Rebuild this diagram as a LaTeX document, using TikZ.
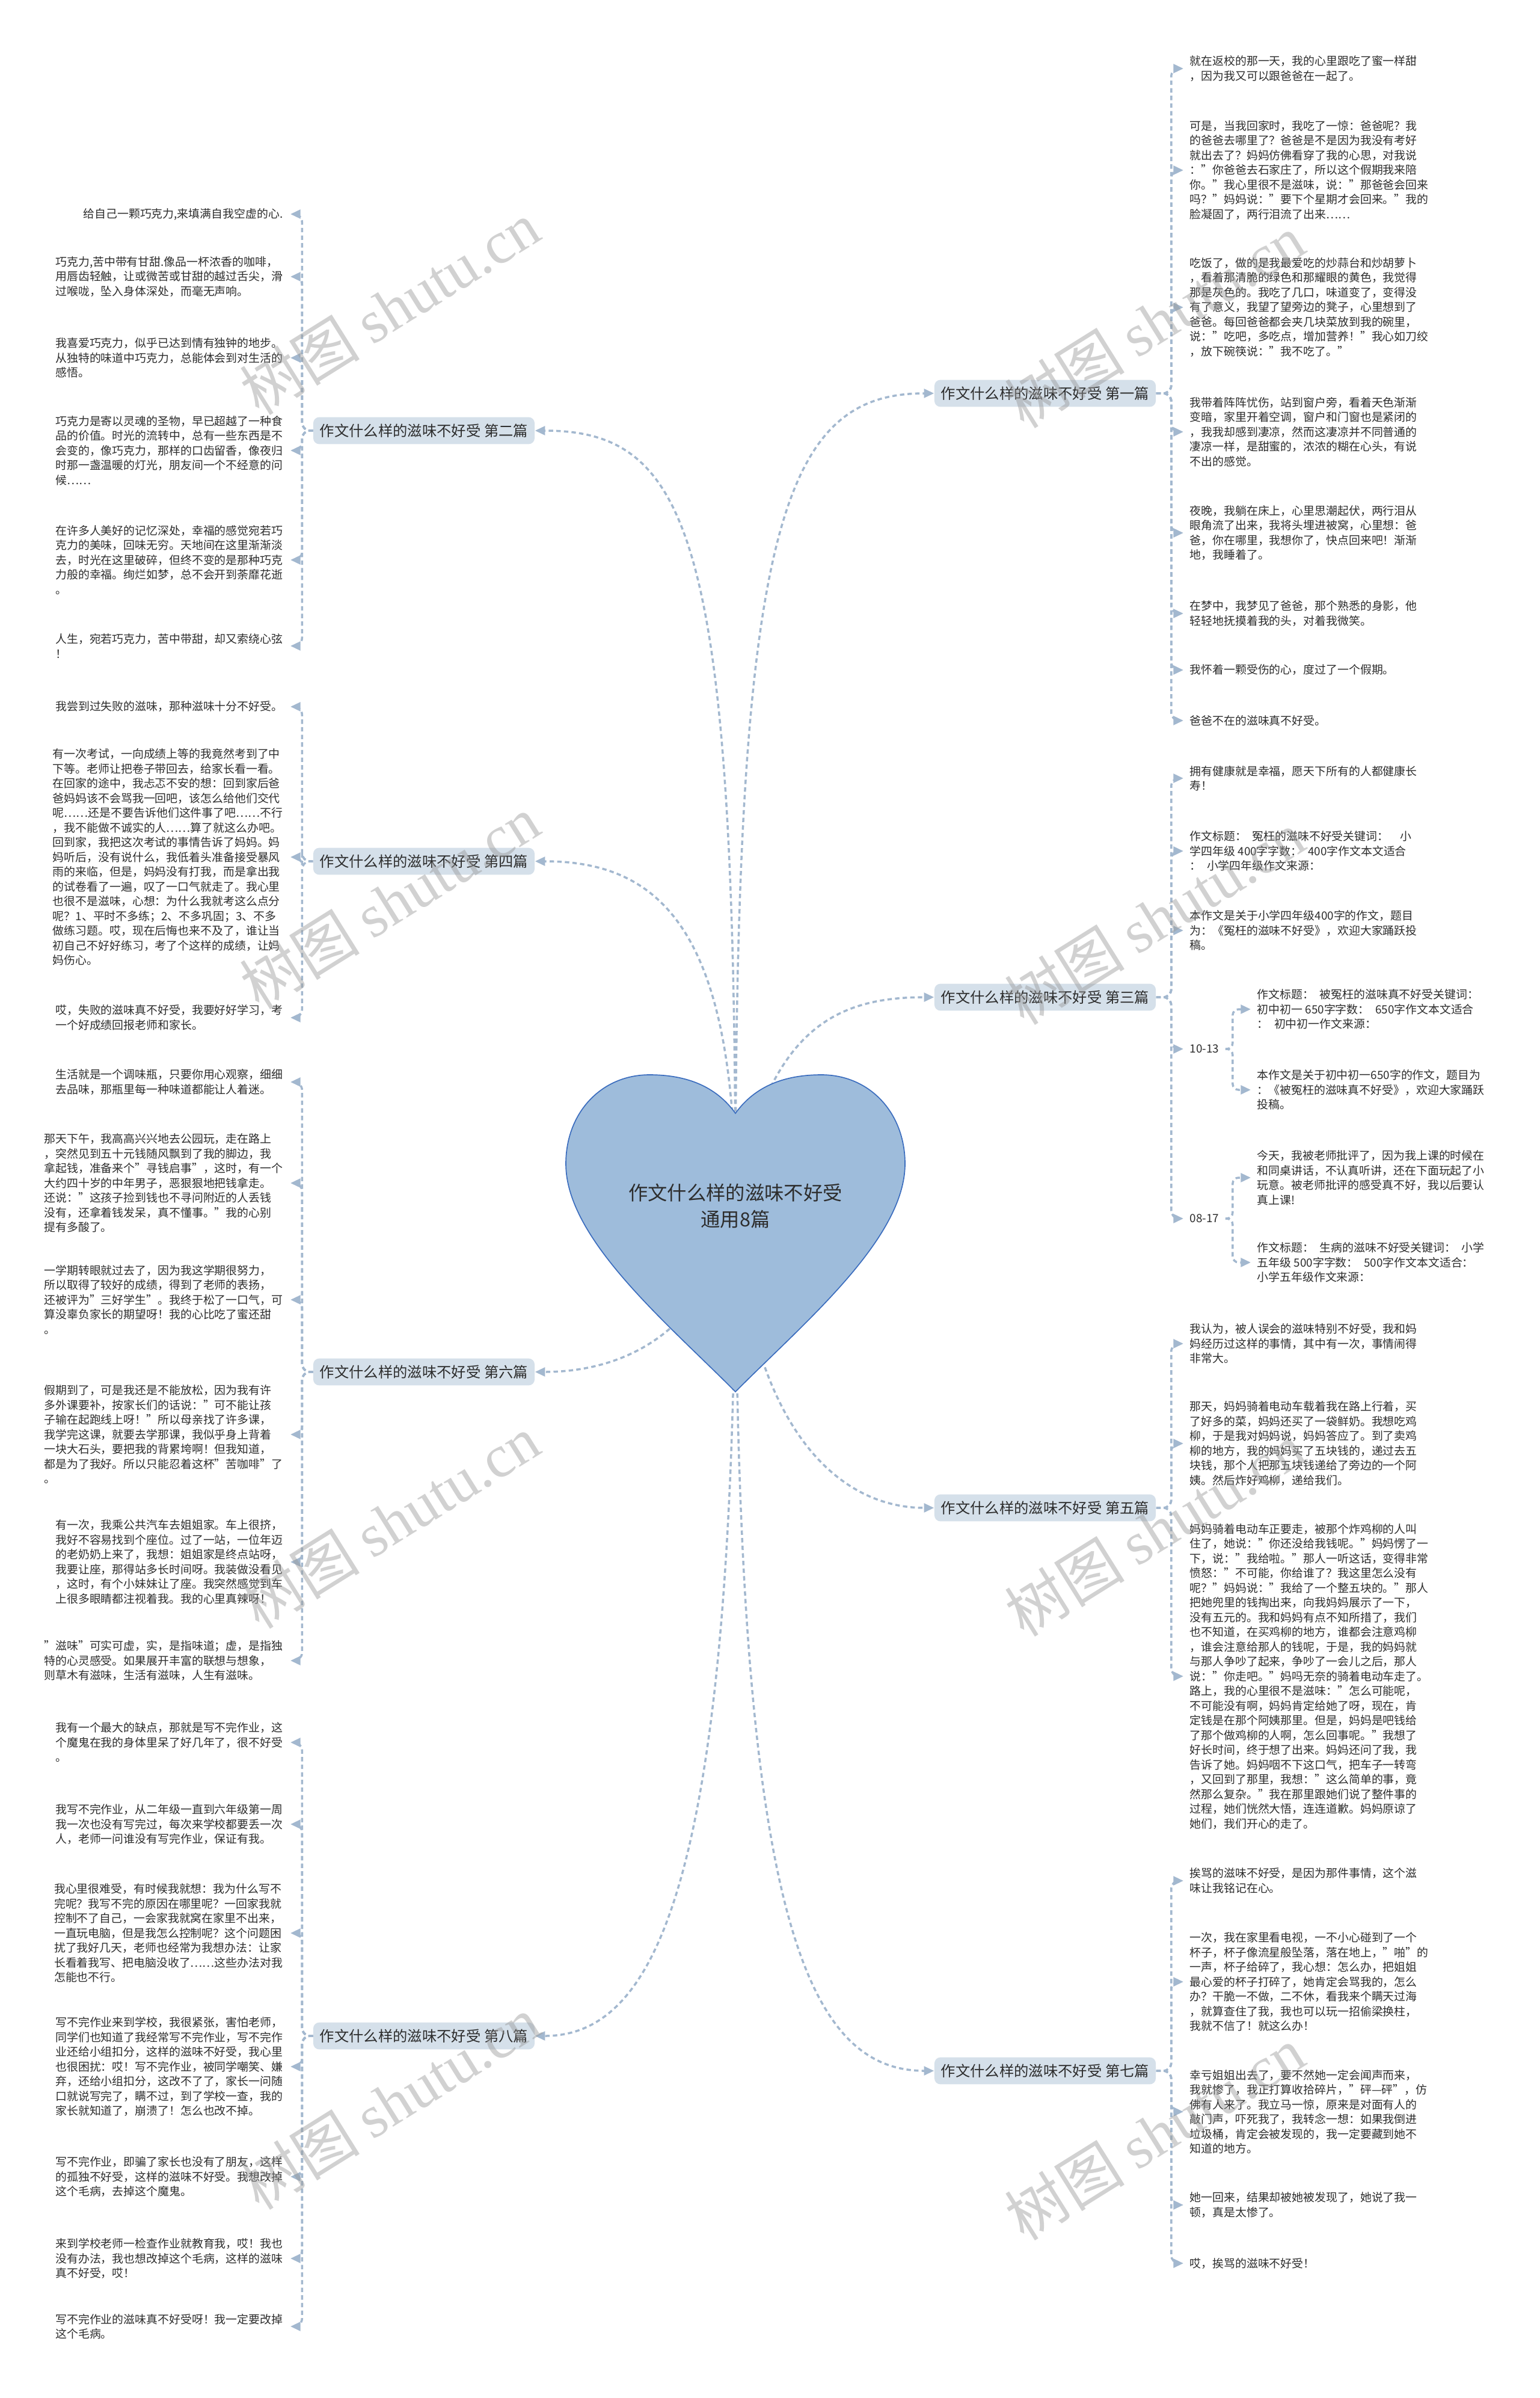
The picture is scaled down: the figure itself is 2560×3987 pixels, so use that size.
\documentclass[tikz,border=0pt]{standalone}
\usepackage{fontspec}
\setmainfont{Noto Sans CJK SC}
\newfontfamily\wmlatin{Liberation Serif}
\usetikzlibrary{arrows.meta,calc}
\definecolor{lineblue}{RGB}{163,184,207}
\definecolor{heartfill}{RGB}{158,188,219}
\definecolor{heartline}{RGB}{58,108,190}
\definecolor{labfill}{RGB}{213,224,234}
\definecolor{txt}{RGB}{45,45,45}
\begin{document}
\begin{tikzpicture}[x=0.3pt,y=-0.3pt,
  every node/.style={text=txt},
  conn/.style={draw=lineblue,line width=1.05pt,dash pattern=on 2.2pt off 1.6pt,-{Triangle[length=5pt,width=4.4pt]}},
  brk/.style={conn,rounded corners=4pt},
  lchild/.style={anchor=east,align=left,inner xsep=3.6pt,inner ysep=0.5pt,font=\fontsize{5.67pt}{7.35pt}\selectfont},
  rchild/.style={anchor=west,align=left,inner xsep=3pt,inner ysep=0.5pt,font=\fontsize{5.67pt}{7.35pt}\selectfont},
  branch/.style={fill=labfill,rounded corners=3pt,inner xsep=3.3pt,minimum height=13pt,font=\fontsize{7.3pt}{8.5pt}\selectfont},
  wm/.style={text=black!40,opacity=0.45,font=\fontsize{30pt}{30pt}\selectfont,rotate=32}
]
\fill[white] (0,0) rectangle (2560,3987);
\useasboundingbox (0,0) rectangle (2560,3987);

% ---------- branch labels ----------
\node[branch] (lb2) at (705,716)  {作文什么样的滋味不好受 第二篇};
\node[branch] (lb4) at (705,1432) {作文什么样的滋味不好受 第四篇};
\node[branch] (lb6) at (705,2281) {作文什么样的滋味不好受 第六篇};
\node[branch] (lb8) at (705,3385) {作文什么样的滋味不好受 第八篇};
\node[branch] (rb1) at (1738,654)  {作文什么样的滋味不好受 第一篇};
\node[branch] (rb3) at (1738,1658) {作文什么样的滋味不好受 第三篇};
\node[branch] (rb5) at (1738,2507) {作文什么样的滋味不好受 第五篇};
\node[branch] (rb7) at (1738,3443) {作文什么样的滋味不好受 第七篇};

% ---------- left children ----------
\node[lchild] (l1) at (483,356) {给自己一颗巧克力,来填满自我空虚的心.};
\node[lchild] (l2) at (483,460) {巧克力,苦中带有甘甜.像品一杯浓香的咖啡，\\用唇齿轻触，让或微苦或甘甜的越过舌尖，滑\\过喉咙，坠入身体深处，而毫无声响。};
\node[lchild] (l3) at (483,595) {我喜爱巧克力，似乎已达到情有独钟的地步。\\从独特的味道中巧克力，总能体会到对生活的\\感悟。};
\node[lchild] (l4) at (483,749) {巧克力是寄以灵魂的圣物，早已超越了一种食\\品的价值。时光的流转中，总有一些东西是不\\会变的，像巧克力，那样的口齿留香，像夜归\\时那一盏温暖的灯光，朋友间一个不经意的问\\候……};
\node[lchild] (l5) at (483,931) {在许多人美好的记忆深处，幸福的感觉宛若巧\\克力的美味，回味无穷。天地间在这里渐渐淡\\去，时光在这里破碎，但终不变的是那种巧克\\力般的幸福。绚烂如梦，总不会开到荼靡花逝\\。};
\node[lchild] (l6) at (483,1074) {人生，宛若巧克力，苦中带甜，却又索绕心弦\\！};
\node[lchild] (l7) at (483,1175) {我尝到过失败的滋味，那种滋味十分不好受。};
\node[lchild] (l8) at (483,1425) {有一次考试，一向成绩上等的我竟然考到了中\\下等。老师让把卷子带回去，给家长看一看。\\在回家的途中，我忐忑不安的想：回到家后爸\\爸妈妈该不会骂我一回吧，该怎么给他们交代\\呢……还是不要告诉他们这件事了吧……不行\\，我不能做不诚实的人……算了就这么办吧。\\回到家，我把这次考试的事情告诉了妈妈。妈\\妈听后，没有说什么，我低着头准备接受暴风\\雨的来临，但是，妈妈没有打我，而是拿出我\\的试卷看了一遍，叹了一口气就走了。我心里\\也很不是滋味，心想：为什么我就考这么点分\\呢？1、平时不多练；2、不多巩固；3、不多\\做练习题。哎，现在后悔也来不及了，谁让当\\初自己不好好练习，考了个这样的成绩，让妈\\妈伤心。};
\node[lchild] (l9) at (483,1692) {哎，失败的滋味真不好受，我要好好学习，考\\一个好成绩回报老师和家长。};
\node[lchild] (l10) at (483,1799) {生活就是一个调味瓶，只要你用心观察，细细\\去品味，那瓶里每一种味道都能让人着迷。};
\node[lchild] (l11) at (483,1967) {那天下午，我高高兴兴地去公园玩，走在路上\\，突然见到五十元钱随风飘到了我的脚边，我\\拿起钱，准备来个"寻钱启事"，这时，有一个\\大约四十岁的中年男子，恶狠狠地把钱拿走。\\还说："这孩子捡到钱也不寻问附近的人丢钱\\没有，还拿着钱发呆，真不懂事。"我的心别\\提有多酸了。};
\node[lchild] (l12) at (483,2161) {一学期转眼就过去了，因为我这学期很努力，\\所以取得了较好的成绩，得到了老师的表扬，\\还被评为"三好学生"。我终于松了一口气，可\\算没辜负家长的期望呀！我的心比吃了蜜还甜\\。};
\node[lchild] (l13) at (483,2385) {假期到了，可是我还是不能放松，因为我有许\\多外课要补，按家长们的话说："可不能让孩\\子输在起跑线上呀！"所以母亲找了许多课，\\我学完这课，就要去学那课，我似乎身上背着\\一块大石头，要把我的背累垮啊！但我知道，\\都是为了我好。所以只能忍着这杯"苦咖啡"了\\。};
\node[lchild] (l14) at (483,2597) {有一次，我乘公共汽车去姐姐家。车上很挤，\\我好不容易找到个座位。过了一站，一位年迈\\的老奶奶上来了，我想：姐姐家是终点站呀，\\我要让座，那得站多长时间呀。我装做没看见\\，这时，有个小妹妹让了座。我突然感觉到车\\上很多眼睛都注视着我。我的心里真辣呀！};
\node[lchild] (l15) at (483,2761) {"滋味"可实可虚，实，是指味道；虚，是指独\\特的心灵感受。如果展开丰富的联想与想象，\\则草木有滋味，生活有滋味，人生有滋味。};
\node[lchild] (l16) at (483,2897) {我有一个最大的缺点，那就是写不完作业，这\\个魔鬼在我的身体里呆了好几年了，很不好受\\。};
\node[lchild] (l17) at (483,3033) {我写不完作业，从二年级一直到六年级第一周\\我一次也没有写完过，每次来学校都要丢一次\\人，老师一问谁没有写完作业，保证有我。};
\node[lchild] (l18) at (483,3214) {我心里很难受，有时候我就想：我为什么写不\\完呢？我写不完的原因在哪里呢？一回家我就\\控制不了自己，一会家我就窝在家里不出来，\\一直玩电脑，但是我怎么控制呢？这个问题困\\扰了我好几天，老师也经常为我想办法：让家\\长看着我写、把电脑没收了……这些办法对我\\怎能也不行。};
\node[lchild] (l19) at (483,3436) {写不完作业来到学校，我很紧张，害怕老师，\\同学们也知道了我经常写不完作业，写不完作\\业还给小组扣分，这样的滋味不好受，我心里\\也很困扰：哎！写不完作业，被同学嘲笑、嫌\\弃，还给小组扣分，这改不了了，家长一问随\\口就说写完了，瞒不过，到了学校一查，我的\\家长就知道了，崩溃了！怎么也改不掉。};
\node[lchild] (l20) at (483,3619) {写不完作业，即骗了家长也没有了朋友，这样\\的孤独不好受，这样的滋味不好受。我想改掉\\这个毛病，去掉这个魔鬼。};
\node[lchild] (l21) at (483,3755) {来到学校老师一检查作业就教育我，哎！我也\\没有办法，我也想改掉这个毛病，这样的滋味\\真不好受，哎！};
\node[lchild] (l22) at (483,3868) {写不完作业的滋味真不好受呀！我一定要改掉\\这个毛病。};

% ---------- right children ----------
\node[rchild] (r1) at (1968,114) {就在返校的那一天，我的心里跟吃了蜜一样甜\\，因为我又可以跟爸爸在一起了。};
\node[rchild] (r2) at (1968,283) {可是，当我回家时，我吃了一惊：爸爸呢？我\\的爸爸去哪里了？爸爸是不是因为我没有考好\\就出去了？妈妈仿佛看穿了我的心思，对我说\\："你爸爸去石家庄了，所以这个假期我来陪\\你。"我心里很不是滋味，说："那爸爸会回来\\吗？"妈妈说："要下个星期才会回来。"我的\\脸凝固了，两行泪流了出来……};
\node[rchild] (r3) at (1968,511) {吃饭了，做的是我最爱吃的炒蒜台和炒胡萝卜\\，看着那清脆的绿色和那耀眼的黄色，我觉得\\那是灰色的。我吃了几口，味道变了，变得没\\有了意义，我望了望旁边的凳子，心里想到了\\爸爸。每回爸爸都会夹几块菜放到我的碗里，\\说："吃吧，多吃点，增加营养！"我心如刀绞\\，放下碗筷说："我不吃了。"};
\node[rchild] (r4) at (1968,718) {我带着阵阵忧伤，站到窗户旁，看着天色渐渐\\变暗，家里开着空调，窗户和门窗也是紧闭的\\，我我却感到凄凉，然而这凄凉并不同普通的\\凄凉一样，是甜蜜的，浓浓的糊在心头，有说\\不出的感觉。};
\node[rchild] (r5) at (1968,886) {夜晚，我躺在床上，心里思潮起伏，两行泪从\\眼角流了出来，我将头埋进被窝，心里想：爸\\爸，你在哪里，我想你了，快点回来吧！渐渐\\地，我睡着了。};
\node[rchild] (r6) at (1968,1020) {在梦中，我梦见了爸爸，那个熟悉的身影，他\\轻轻地抚摸着我的头，对着我微笑。};
\node[rchild] (r7) at (1968,1114) {我怀着一颗受伤的心，度过了一个假期。};
\node[rchild] (r8) at (1968,1198) {爸爸不在的滋味真不好受。};
\node[rchild] (r9) at (1968,1294) {拥有健康就是幸福，愿天下所有的人都健康长\\寿！};
\node[rchild] (r10) at (1968,1415) {作文标题：\enspace 冤枉的滋味不好受关键词：\quad 小\\学四年级 400字字数：\enspace 400字作文本文适合\\：\enspace 小学四年级作文来源：};
\node[rchild] (r11) at (1968,1547) {本作文是关于小学四年级400字的作文，题目\\为：《冤枉的滋味不好受》，欢迎大家踊跃投\\稿。};
\node[rchild] (r12) at (1968,1744) {10-13};
\node[rchild] (r12a) at (2080,1678) {作文标题：\enspace 被冤枉的滋味真不好受关键词：\\初中初一 650字字数：\enspace 650字作文本文适合\\：\enspace 初中初一作文来源：};
\node[rchild] (r12b) at (2080,1812) {本作文是关于初中初一650字的作文，题目为\\：《被冤枉的滋味真不好受》，欢迎大家踊跃\\投稿。};
\node[rchild] (r13) at (1968,2026) {08-17};
\node[rchild] (r13a) at (2080,1958) {今天，我被老师批评了，因为我上课的时候在\\和同桌讲话，不认真听讲，还在下面玩起了小\\玩意。被老师批评的感受真不好，我以后要认\\真上课!};
\node[rchild] (r13b) at (2080,2099) {作文标题：\enspace 生病的滋味不好受关键词：\enspace 小学\\五年级 500字字数：\enspace 500字作文本文适合：\\小学五年级作文来源：};
\node[rchild] (r14) at (1968,2234) {我认为，被人误会的滋味特别不好受，我和妈\\妈经历过这样的事情，其中有一次，事情闹得\\非常大。};
\node[rchild] (r15) at (1968,2400) {那天，妈妈骑着电动车载着我在路上行着，买\\了好多的菜，妈妈还买了一袋鲜奶。我想吃鸡\\柳，于是我对妈妈说，妈妈答应了。到了卖鸡\\柳的地方，我的妈妈买了五块钱的，递过去五\\块钱，那个人把那五块钱递给了旁边的一个阿\\姨。然后炸好鸡柳，递给我们。};
\node[rchild] (r16) at (1968,2787) {妈妈骑着电动车正要走，被那个炸鸡柳的人叫\\住了，她说："你还没给我钱呢。"妈妈愣了一\\下，说："我给啦。"那人一听这话，变得非常\\愤怒："不可能，你给谁了？我这里怎么没有\\呢？"妈妈说："我给了一个整五块的。"那人\\把她兜里的钱掏出来，向我妈妈展示了一下，\\没有五元的。我和妈妈有点不知所措了，我们\\也不知道，在买鸡柳的地方，谁都会注意鸡柳\\，谁会注意给那人的钱呢，于是，我的妈妈就\\与那人争吵了起来，争吵了一会儿之后，那人\\说："你走吧。"妈吗无奈的骑着电动车走了。\\路上，我的心里很不是滋味："怎么可能呢，\\不可能没有啊，妈妈肯定给她了呀，现在，肯\\定钱是在那个阿姨那里。但是，妈妈是吧钱给\\了那个做鸡柳的人啊，怎么回事呢。"我想了\\好长时间，终于想了出来。妈妈还问了我，我\\告诉了她。妈妈咽不下这口气，把车子一转弯\\，又回到了那里，我想："这么简单的事，竟\\然那么复杂。"我在那里跟她们说了整件事的\\过程，她们恍然大悟，连连道歉。妈妈原谅了\\她们，我们开心的走了。};
\node[rchild] (r17) at (1968,3127) {挨骂的滋味不好受，是因为那件事情，这个滋\\味让我铭记在心。};
\node[rchild] (r18) at (1968,3295) {一次，我在家里看电视，一不小心碰到了一个\\杯子，杯子像流星般坠落，落在地上，"啪"的\\一声，杯子给碎了，我心想：怎么办，把姐姐\\最心爱的杯子打碎了，她肯定会骂我的，怎么\\办？干脆一不做，二不休，看我来个瞒天过海\\，就算查住了我，我也可以玩一招偷梁换柱，\\我就不信了！就这么办！};
\node[rchild] (r19) at (1968,3511) {幸亏姐姐出去了，要不然她一定会闻声而来，\\我就惨了，我正打算收拾碎片，"砰—砰"，仿\\佛有人来了。我立马一惊，原来是对面有人的\\敲门声，吓死我了，我转念一想：如果我倒进\\垃圾桶，肯定会被发现的，我一定要藏到她不\\知道的地方。};
\node[rchild] (r20) at (1968,3666) {她一回来，结果却被她被发现了，她说了我一\\顿，真是太惨了。};
\node[rchild] (r21) at (1968,3763) {哎，挨骂的滋味不好受！};

% ---------- brackets ----------
\foreach \c in {l1,l2,l3,l4,l5,l6} {\draw[brk] (lb2.west) -- ++(-18,0) |- (\c.east);}
\foreach \c in {l7,l8,l9} {\draw[brk] (lb4.west) -- ++(-18,0) |- (\c.east);}
\foreach \c in {l10,l11,l12,l13,l14,l15} {\draw[brk] (lb6.west) -- ++(-18,0) |- (\c.east);}
\foreach \c in {l16,l17,l18,l19,l20,l21,l22} {\draw[brk] (lb8.west) -- ++(-18,0) |- (\c.east);}
\foreach \c in {r1,r2,r3,r4,r5,r6,r7,r8} {\draw[brk] (rb1.east) -- ++(25,0) |- (\c.west);}
\foreach \c in {r9,r10,r11,r12,r13} {\draw[brk] (rb3.east) -- ++(25,0) |- (\c.west);}
\foreach \c in {r12a,r12b} {\draw[conn,rounded corners=3pt] (r12.east) -- ++(12,0) |- (\c.west);}
\foreach \c in {r13a,r13b} {\draw[conn,rounded corners=3pt] (r13.east) -- ++(12,0) |- (\c.west);}
\foreach \c in {r14,r15,r16} {\draw[brk] (rb5.east) -- ++(25,0) |- (\c.west);}
\foreach \c in {r17,r18,r19,r20,r21} {\draw[brk] (rb7.east) -- ++(25,0) |- (\c.west);}

% ---------- root connectors ----------
\coordinate (rootc) at (1223,2000);
\draw[conn] (rootc) .. controls (1223,900) and (1150,716) .. (lb2.east);
\draw[conn] (rootc) .. controls (1223,1550) and (1100,1432) .. (lb4.east);
\draw[conn] (rootc) .. controls (1180,2230) and (1020,2281) .. (lb6.east);
\draw[conn] (rootc) .. controls (1223,3100) and (1100,3385) .. (lb8.east);
\draw[conn] (rootc) .. controls (1223,880) and (1300,654) .. (rb1.west);
\draw[conn] (rootc) .. controls (1275,1720) and (1380,1658) .. (rb3.west);
\draw[conn] (rootc) .. controls (1240,2350) and (1380,2507) .. (rb5.west);
\draw[conn] (rootc) .. controls (1223,3150) and (1330,3443) .. (rb7.west);

% ---------- heart ----------
\draw[fill=heartfill,draw=heartline,line width=0.5pt]
  (1223,1851) .. controls (1190,1805) and (1140,1787) .. (1080,1787)
  .. controls (1000,1787) and (941,1850) .. (941,1935)
  .. controls (941,2060) and (1110,2200) .. (1223,2314)
  .. controls (1336,2200) and (1505,2060) .. (1505,1935)
  .. controls (1505,1850) and (1446,1787) .. (1366,1787)
  .. controls (1306,1787) and (1256,1805) .. (1223,1851) -- cycle;
\node[align=center,font=\fontsize{9.7pt}{13.2pt}\selectfont] (root) at (1223,2005) {作文什么样的滋味不好受\\通用8篇};

% ---------- watermarks ----------
\node[wm] (wm1) at (648,512) {树图 {\wmlatin shutu.cn}};
\node[wm] (wm2) at (648,1500) {树图 {\wmlatin shutu.cn}};
\node[wm] (wm3) at (648,2530) {树图 {\wmlatin shutu.cn}};
\node[wm] (wm4) at (648,3496) {树图 {\wmlatin shutu.cn}};
\node[wm] (wm5) at (1920,534) {树图 {\wmlatin shutu.cn}};
\node[wm] (wm6) at (1920,1526) {树图 {\wmlatin shutu.cn}};
\node[wm] (wm7) at (1920,2543) {树图 {\wmlatin shutu.cn}};
\node[wm] (wm8) at (1920,3547) {树图 {\wmlatin shutu.cn}};
\end{tikzpicture}
\end{document}
